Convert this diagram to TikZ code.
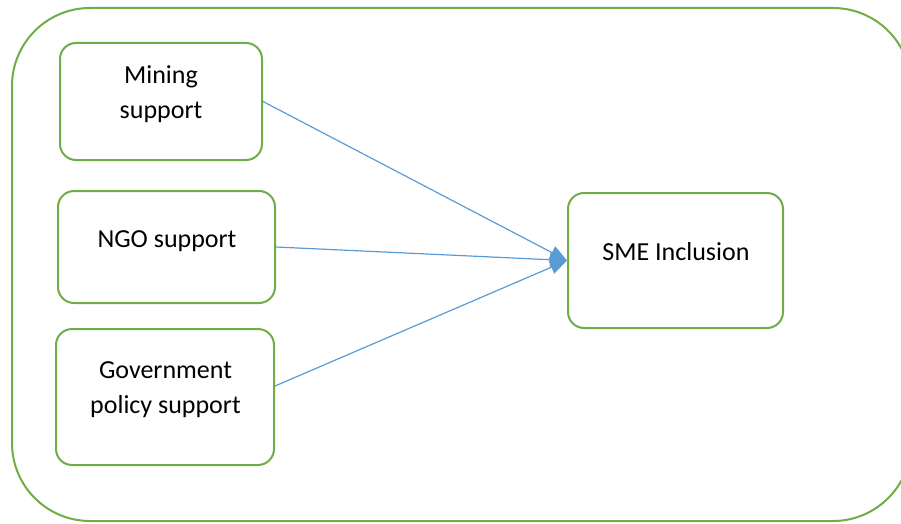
\documentclass[tikz,border=0pt]{standalone}
\usepackage{fontspec}
\setmainfont{Carlito}
\usetikzlibrary{arrows.meta}
\definecolor{boxgreen}{RGB}{112,173,71}
\definecolor{arrowblue}{RGB}{91,155,213}
\begin{document}
\begin{tikzpicture}[x=1pt,y=-1pt,line join=round,line cap=round,
	box/.style={draw=boxgreen,line width=2pt,rounded corners=16pt,inner sep=0pt},
	txt/.style={font=\fontsize{26}{34.5}\selectfont,align=center,anchor=base},
	link/.style={draw=arrowblue,line width=1.2pt,-{Triangle[length=17pt,width=14pt]}}]
		\useasboundingbox (0,0) rectangle (901,524);
		\clip (0,0) rectangle (901,524);
		\draw[draw=boxgreen,line width=2pt,rounded corners=78pt] (12,8) rectangle (911,521);
		\node[box,minimum width=202pt,minimum height=117pt] (mining) at (161,101.5) {};
		\node[box,minimum width=217pt,minimum height=112pt] (ngo) at (166.5,247) {};
		\node[box,minimum width=218pt,minimum height=136pt] (gov) at (165,397) {};
		\node[box,minimum width=215pt,minimum height=135pt] (sme) at (675.5,260.5) {};
		% base of a two-line node is its last line
		\node[txt] (miningtxt) at (161,118) {Mining\\support};
		\node[txt] (ngotxt) at (167,247) {NGO support};
		\node[txt] (govtxt) at (165.5,413) {Government\\policy support};
		\node[txt] (smetxt) at (676,260) {SME Inclusion};
		\draw[link] (mining.east)--(sme.west);
		\draw[link] (ngo.east)--(sme.west);
		\draw[link] ([yshift=11pt]gov.east)--(sme.west);
\end{tikzpicture}
\end{document}
